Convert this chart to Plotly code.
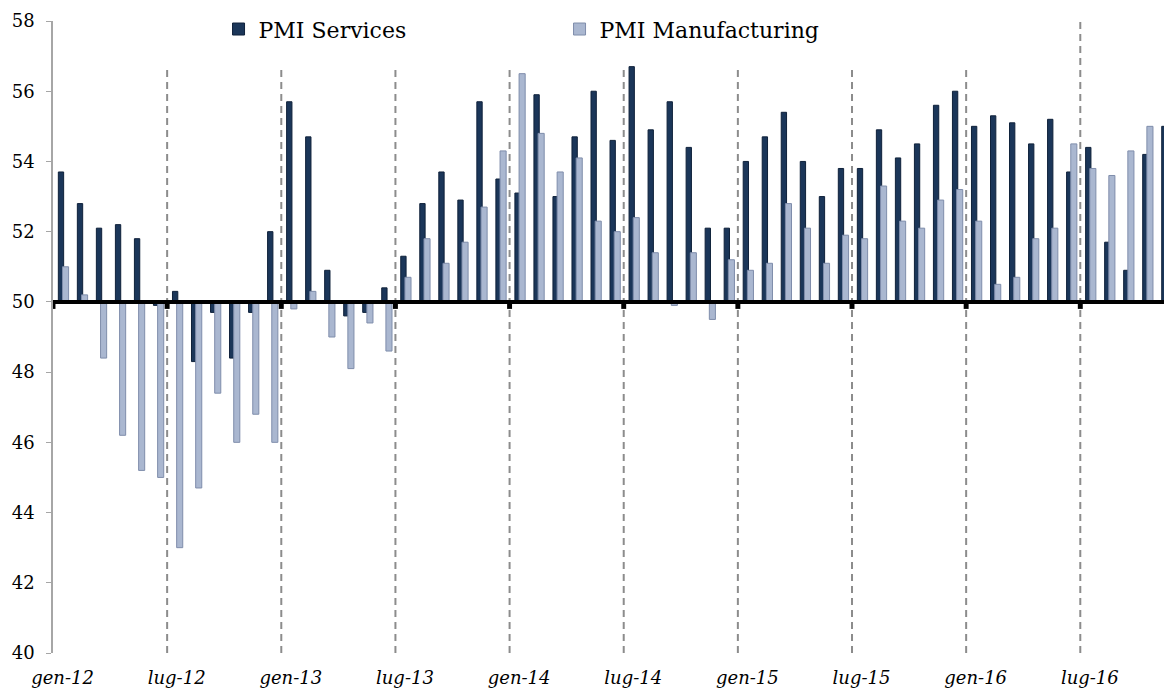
import plotly.graph_objects as go

# monthly PMI readings, gen-12 .. nov-16
months = ["gen-12", "feb-12", "mar-12", "apr-12", "mag-12", "giu-12",
          "lug-12", "ago-12", "set-12", "ott-12", "nov-12", "dic-12",
          "gen-13", "feb-13", "mar-13", "apr-13", "mag-13", "giu-13",
          "lug-13", "ago-13", "set-13", "ott-13", "nov-13", "dic-13",
          "gen-14", "feb-14", "mar-14", "apr-14", "mag-14", "giu-14",
          "lug-14", "ago-14", "set-14", "ott-14", "nov-14", "dic-14",
          "gen-15", "feb-15", "mar-15", "apr-15", "mag-15", "giu-15",
          "lug-15", "ago-15", "set-15", "ott-15", "nov-15", "dic-15",
          "gen-16", "feb-16", "mar-16", "apr-16", "mag-16", "giu-16",
          "lug-16", "ago-16", "set-16", "ott-16", "nov-16"]

pmi_services = [53.7, 52.8, 52.1, 52.2, 51.8, 49.9,
                50.3, 48.3, 49.7, 48.4, 49.7, 52.0,
                55.7, 54.7, 50.9, 49.6, 49.7, 50.4,
                51.3, 52.8, 53.7, 52.9, 55.7, 53.5,
                53.1, 55.9, 53.0, 54.7, 56.0, 54.6,
                56.7, 54.9, 55.7, 54.4, 52.1, 52.1,
                54.0, 54.7, 55.4, 54.0, 53.0, 53.8,
                53.8, 54.9, 54.1, 54.5, 55.6, 56.0,
                55.0, 55.3, 55.1, 54.5, 55.2, 53.7,
                54.4, 51.7, 50.9, 54.2, 55.0]

pmi_manufacturing = [51.0, 50.2, 48.4, 46.2, 45.2, 45.0,
                     43.0, 44.7, 47.4, 46.0, 46.8, 46.0,
                     49.8, 50.3, 49.0, 48.1, 49.4, 48.6,
                     50.7, 51.8, 51.1, 51.7, 52.7, 54.3,
                     56.5, 54.8, 53.7, 54.1, 52.3, 52.0,
                     52.4, 51.4, 49.9, 51.4, 49.5, 51.2,
                     50.9, 51.1, 52.8, 52.1, 51.1, 51.9,
                     51.8, 53.3, 52.3, 52.1, 52.9, 53.2,
                     52.3, 50.5, 50.7, 51.8, 52.1, 54.5,
                     53.8, 53.6, 54.3, 55.0, None]

tick_step = 6
baseline = 50
x_idx = list(range(len(months)))
tick_pos = list(range(0, len(months), tick_step))

fig = go.Figure()
fig.add_trace(go.Bar(
    x=x_idx, y=[v - baseline for v in pmi_services], base=baseline,
    name="PMI Services", offset=0.28, width=0.28,
    marker=dict(color="#1b3659", line=dict(color="#0f213a", width=1)),
))
fig.add_trace(go.Bar(
    x=x_idx,
    y=[None if v is None else v - baseline for v in pmi_manufacturing],
    base=baseline, name="PMI Manufacturing", offset=0.5, width=0.32,
    marker=dict(color="#aab7d0", line=dict(color="#7f8dab", width=1)),
))

x_max = 58.4
shapes = []
# dashed separators every six months (hidden behind the legend box at top)
for p in tick_pos[1:]:
    top = 58 if p == tick_pos[-1] else 56.7
    shapes.append(dict(type="line", xref="x", yref="y", x0=p, x1=p, y0=40, y1=top,
                       line=dict(color="#8c8c8c", width=2, dash="7px,5px"), layer="below"))
# thick 50 line
shapes.append(dict(type="line", xref="x", yref="y", x0=-0.1, x1=x_max, y0=baseline, y1=baseline,
                   line=dict(color="black", width=4), layer="above"))
for p in tick_pos:
    shapes.append(dict(type="rect", xref="x", yref="y", x0=p - 0.13, x1=p + 0.13,
                       y0=baseline - 0.2, y1=baseline, fillcolor="black",
                       line=dict(width=0), layer="above"))

fig.update_layout(
    width=1164, height=689,
    margin=dict(l=53, r=0, t=21, b=36),
    paper_bgcolor="white", plot_bgcolor="white",
    barmode="overlay",
    font=dict(family="DejaVu Serif", color="black"),
    shapes=shapes,
    legend=dict(orientation="h", x=0.149, xanchor="left", y=0.987, yanchor="middle",
                font=dict(family="DejaVu Serif", size=22, color="black"),
                entrywidth=296, bgcolor="rgba(0,0,0,0)"),
    xaxis=dict(range=[0, x_max], tickvals=[p + 0.5 for p in tick_pos],
               ticktext=[months[p] for p in tick_pos], ticks="",
               showgrid=False, zeroline=False, showline=False, automargin=False,
               tickfont=dict(family="DejaVu Serif", size=18, style="italic", color="black"),
               ticklabelstandoff=12),
    yaxis=dict(range=[40, 58], dtick=2, showgrid=False, zeroline=False,
               showline=True, linecolor="#a6a6a6", linewidth=1.5, automargin=False,
               ticks="outside", ticklen=5, tickcolor="#a6a6a6", ticklabelstandoff=8,
               tickfont=dict(family="DejaVu Serif", size=18, color="black")),
)

# drop the browser's default page margin so the 1164x689 figure fills the window
fig.write_html("out.html", config={"displayModeBar": False},
               post_script="document.body.style.margin='0';document.body.style.overflow='hidden';")
